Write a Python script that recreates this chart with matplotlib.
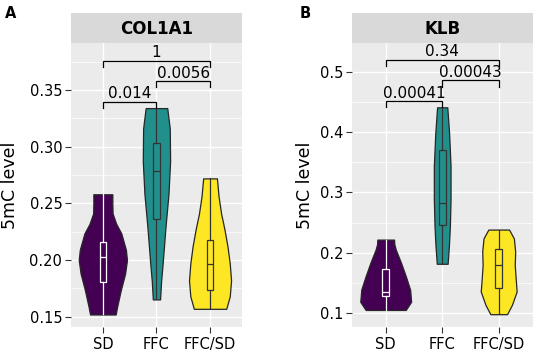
import numpy as np
import matplotlib
matplotlib.use("Agg")
import matplotlib.pyplot as plt
from matplotlib.ticker import FixedLocator

plt.rcParams['font.family'] = ['DejaVu Sans']

groups = ["SD", "FFC", "FFC/SD"]
colors = ["#440154", "#21908C", "#FDE725"]

# ---- Panel A: COL1A1 ----
a_sd_levels = [0.152, 0.159, 0.1735, 0.188, 0.200, 0.209, 0.2235, 0.232, 0.241, 0.250, 0.258]
a_sd_dens = [0.233, 0.260, 0.326, 0.404, 0.438, 0.419, 0.335, 0.242, 0.177, 0.172, 0.173]
a_ffc_levels = [0.1653, 0.181, 0.1985, 0.229, 0.258, 0.287, 0.316, 0.334]
a_ffc_dens = [0.066, 0.084, 0.115, 0.164, 0.218, 0.248, 0.242, 0.196]
a_ffcsd_levels = [0.157, 0.168, 0.182, 0.197, 0.212, 0.2265, 0.241, 0.256, 0.272]
a_ffcsd_dens = [0.294, 0.358, 0.382, 0.358, 0.317, 0.264, 0.201, 0.155, 0.125]
# box stats: min, q1, median, q3, max
a_box = [
    [0.152, 0.181, 0.203, 0.216, 0.258],
    [0.1653, 0.2365, 0.2785, 0.303, 0.334],
    [0.157, 0.174, 0.1965, 0.218, 0.272],
]
a_pvals = ["0.014", "0.0056", "1"]
a_yticks = [0.15, 0.20, 0.25, 0.30, 0.35]
a_yticklabels = ["0.15", "0.20", "0.25", "0.30", "0.35"]

# ---- Panel B: KLB ----
b_sd_levels = [0.1055, 0.119, 0.139, 0.161, 0.1835, 0.2055, 0.214, 0.222]
b_sd_dens = [0.370, 0.469, 0.451, 0.372, 0.283, 0.186, 0.160, 0.154]
b_ffc_levels = [0.182, 0.212, 0.245, 0.289, 0.344, 0.399, 0.441]
b_ffc_dens = [0.100, 0.124, 0.142, 0.154, 0.154, 0.127, 0.094]
b_ffcsd_levels = [0.0985, 0.114, 0.136, 0.158, 0.180, 0.202, 0.224, 0.2386]
b_ffcsd_dens = [0.154, 0.244, 0.331, 0.313, 0.296, 0.304, 0.280, 0.191]
b_box = [
    [0.1055, 0.128, 0.135, 0.1735, 0.222],
    [0.182, 0.2455, 0.2823, 0.370, 0.441],
    [0.0985, 0.142, 0.1805, 0.207, 0.2386],
]
b_pvals = ["0.00041", "0.00043", "0.34"]
b_yticks = [0.1, 0.2, 0.3, 0.4, 0.5]
b_yticklabels = ["0.1", "0.2", "0.3", "0.4", "0.5"]

comparisons = [(0, 1), (1, 2), (0, 2)]

W, H = 536, 354
fig = plt.figure(figsize=(W / 100, H / 100), dpi=100)


def px_box(left, right, top, bottom):
    return [left / W, 1 - bottom / H, (right - left) / W, (bottom - top) / H]


def draw_panel(rect, title, letter, letter_xy, ylab_x, levels, dens, box, pvals,
               yticks, yticklabels, ylim):
    ax = fig.add_axes(rect)
    ax.set_facecolor("#EBEBEB")
    for s in ax.spines.values():
        s.set_visible(False)
    pos = np.arange(1, len(groups) + 1)
    gmax = max(max(d) for d in dens)
    vpstats = []
    widths = []
    for lv, dv in zip(levels, dens):
        lv = np.asarray(lv); dv = np.asarray(dv)
        vpstats.append(dict(coords=lv, vals=dv, mean=np.mean(lv), median=np.median(lv),
                            min=lv.min(), max=lv.max()))
        widths.append(0.9 * dv.max() / gmax)
    parts = ax.violin(vpstats, positions=pos, widths=widths, showmeans=False,
                      showextrema=False, showmedians=False)
    for body, c in zip(parts['bodies'], colors):
        body.set_facecolor(c)
        body.set_edgecolor("#262626")
        body.set_linewidth(0.9)
        body.set_alpha(1)
        body.set_zorder(3)
    for i, b in enumerate(box):
        st = [dict(whislo=b[0], q1=b[1], med=b[2], q3=b[3], whishi=b[4], fliers=[])]
        ec = "white" if i == 0 else "#333333"
        ax.bxp(st, positions=[pos[i]], widths=0.12, showcaps=False, showfliers=False,
               patch_artist=True, manage_ticks=False,
               boxprops=dict(facecolor="none", edgecolor=ec, linewidth=0.9, zorder=4),
               medianprops=dict(color=ec, linewidth=0.9, zorder=4),
               whiskerprops=dict(color=ec, linewidth=0.9, zorder=4))
    # significance brackets (ggpubr style: stacked above the data maximum)
    allmin = min(min(l) for l in levels)
    allmax = max(max(l) for l in levels)
    rng = allmax - allmin
    for k, ((g1, g2), p) in enumerate(zip(comparisons, pvals)):
        y = allmax + rng * (0.03 + 0.10 * k)
        tick = rng * 0.03
        x1, x2 = pos[g1], pos[g2]
        ax.plot([x1, x1, x2, x2], [y - tick, y, y, y - tick], color="black",
                lw=0.9, zorder=5, solid_joinstyle="miter")
        ax.text((x1 + x2) / 2, y + rng * 0.002, p, ha="center", va="bottom",
                fontsize=11, color="black", zorder=6)
    ax.set_xlim(0.4, 3.6)
    ax.set_ylim(*ylim)
    ax.set_xticks(pos)
    ax.set_xticklabels(groups)
    ax.set_yticks(yticks)
    ax.set_yticklabels(yticklabels)
    step = yticks[1] - yticks[0]
    minors = np.arange(yticks[0] - step / 2, ylim[1], step)
    ax.yaxis.set_minor_locator(FixedLocator(minors))
    ax.tick_params(axis="both", which="major", length=4, width=0.8, color="#333333",
                   labelsize=10.5, labelcolor="black", pad=2)
    ax.tick_params(axis="x", which="major", pad=3)
    ax.tick_params(axis="y", which="minor", length=0)
    ax.grid(True, which="major", color="white", lw=1.0, zorder=0)
    ax.grid(True, which="minor", axis="y", color="white", lw=0.5, zorder=0)
    ax.set_axisbelow(True)
    # strip
    bb = ax.get_position()
    sax = fig.add_axes([bb.x0, bb.y1, bb.width, 30 / H])
    sax.set_facecolor("#D9D9D9")
    sax.set_xticks([]); sax.set_yticks([])
    for s in sax.spines.values():
        s.set_visible(False)
    sax.text(0.5, 0.47, title, ha="center", va="center", fontsize=12,
             fontweight="bold", transform=sax.transAxes)
    fig.text(letter_xy[0] / W, 1 - letter_xy[1] / H, letter, fontsize=10.5,
             fontweight="bold", ha="center", va="center")
    fig.text(ylab_x / W, 1 - 185 / H, "5mC level", rotation=90, ha="center",
             va="center", fontsize=12.5)
    return ax


draw_panel(px_box(70.7, 242.2, 43, 327.3), "COL1A1", "A", (10.5, 13), 10,
           [a_sd_levels, a_ffc_levels, a_ffcsd_levels],
           [a_sd_dens, a_ffc_dens, a_ffcsd_dens], a_box, a_pvals,
           a_yticks, a_yticklabels, (0.1407, 0.3914))
draw_panel(px_box(351.8, 532.6, 43, 327.3), "KLB", "B", (304.7, 13), 305.5,
           [b_sd_levels, b_ffc_levels, b_ffcsd_levels],
           [b_sd_dens, b_ffc_dens, b_ffcsd_dens], b_box, b_pvals,
           b_yticks, b_yticklabels, (0.0768, 0.5475))

fig.savefig("out.png", dpi=100, facecolor="white")
